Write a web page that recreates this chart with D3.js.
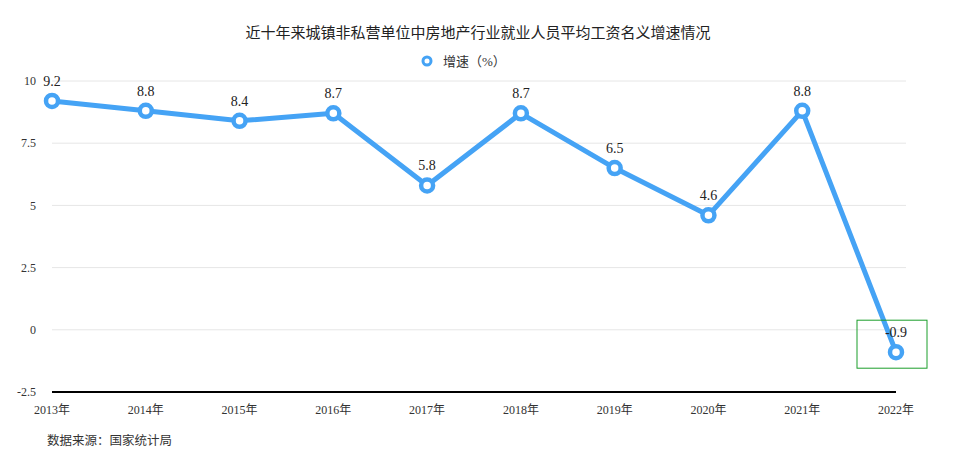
<!DOCTYPE html>
<html><head><meta charset="utf-8">
<script src="https://cdn.jsdelivr.net/npm/d3@7"></script>
<style>body{margin:0;background:#fff}svg{display:block}</style>
</head><body><svg id="c" width="968" height="470"></svg>
<script>
const categories = ["2013年","2014年","2015年","2016年","2017年","2018年","2019年","2020年","2021年","2022年"];
const growth = [9.2, 8.8, 8.4, 8.7, 5.8, 8.7, 6.5, 4.6, 8.8, -0.9];
const yTicks = [-2.5, 0, 2.5, 5, 7.5, 10];
const yTickLabels = ["-2.5","0","2.5","5","7.5","10"];
const title = "近十年来城镇非私营单位中房地产行业就业人员平均工资名义增速情况";
const seriesName = "增速（%）";
const source = "数据来源：国家统计局";

const font = "'Liberation Serif','Noto Sans CJK SC',serif";
const blue = "#45a3f5";
const svg = d3.select("#c");
const x = d3.scalePoint().domain(categories).range([52, 896]);
const y = d3.scaleLinear().domain([-2.5, 10]).range([392, 81]);

// grid
svg.append("g").selectAll("line").data(yTicks.filter(d => d > -2.5)).join("line")
  .attr("x1", 52).attr("x2", 906).attr("y1", d => y(d)).attr("y2", d => y(d))
  .attr("stroke", "#e6e6e6").attr("stroke-width", 1);

// y labels
svg.append("g").selectAll("text").data(yTicks).join("text")
  .attr("x", 36).attr("y", d => y(d)).attr("dy", "0.35em")
  .attr("text-anchor", "end").attr("font-family", font).attr("font-size", 12).attr("fill", "#333")
  .text((d, i) => yTickLabels[i]);

// x axis line
svg.append("line").attr("x1", 52).attr("x2", 896).attr("y1", y(-2.5)).attr("y2", y(-2.5))
  .attr("stroke", "#000").attr("stroke-width", 2);

// x labels
svg.append("g").selectAll("text").data(categories).join("text")
  .attr("x", d => x(d)).attr("y", 414)
  .attr("text-anchor", "middle").attr("font-family", font).attr("font-size", 12).attr("fill", "#333")
  .text(d => d);

// line
const line = d3.line().x((d, i) => x(categories[i])).y(d => y(d));
svg.append("path").datum(growth).attr("d", line)
  .attr("fill", "none").attr("stroke", blue).attr("stroke-width", 5).attr("stroke-linejoin", "round");

svg.append("g").selectAll("circle").data(growth).join("circle")
  .attr("cx", (d, i) => x(categories[i])).attr("cy", d => y(d)).attr("r", 6)
  .attr("fill", "#fff").attr("stroke", blue).attr("stroke-width", 4.5);

// data labels
svg.append("g").selectAll("text").data(growth).join("text")
  .attr("x", (d, i) => x(categories[i])).attr("y", d => y(d) - 15)
  .attr("text-anchor", "middle").attr("font-family", font).attr("font-size", 14).attr("fill", "#222")
  .text(d => d.toFixed(1));

// highlight box on last point
const last = growth.length - 1;
svg.append("rect")
  .attr("x", x(categories[last]) - 39).attr("y", y(growth[last]) - 32)
  .attr("width", 70).attr("height", 48)
  .attr("fill", "none").attr("stroke", "#1a9e2a").attr("stroke-width", 1);

// title
svg.append("text").attr("x", 478).attr("y", 38).attr("text-anchor", "middle")
  .attr("font-family", font).attr("font-size", 15).attr("fill", "#222").text(title);

// legend
svg.append("circle").attr("cx", 427).attr("cy", 61).attr("r", 4)
  .attr("fill", "#fff").attr("stroke", blue).attr("stroke-width", 3);
svg.append("text").attr("x", 443).attr("y", 61).attr("dy", "0.35em")
  .attr("font-family", font).attr("font-size", 13).attr("fill", "#333").text(seriesName);

// source
svg.append("text").attr("x", 47).attr("y", 445)
  .attr("font-family", font).attr("font-size", 12.5).attr("fill", "#333").text(source);
</script></body></html>
